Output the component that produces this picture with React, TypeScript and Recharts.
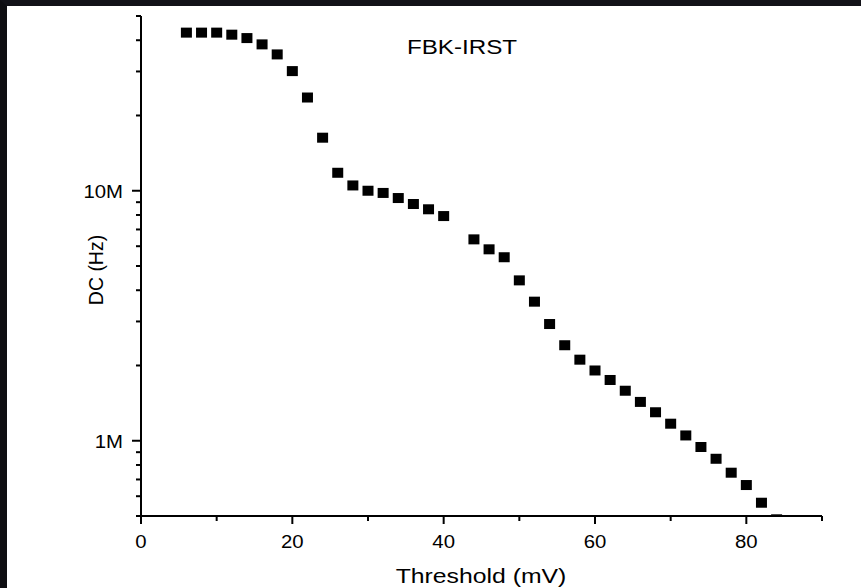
import React from 'react';
import { ScatterChart, Scatter, XAxis, YAxis } from 'recharts';

// threshold (mV) vs dark count rate (Hz)
const thresholds = [6, 8, 10, 12, 14, 16, 18, 20, 22, 24, 26, 28, 30, 32, 34, 36, 38, 40, 44, 46, 48, 50, 52, 54, 56, 58, 60, 62, 64, 66, 68, 70, 72, 74, 76, 78, 80, 82, 84];
const darkCounts = [
  42.9e6, 42.9e6, 42.9e6, 42.1e6, 40.8e6, 38.5e6, 35.1e6, 30.1e6, 23.6e6, 16.3e6,
  11.8e6, 10.5e6, 10.0e6, 9.8e6, 9.35e6, 8.85e6, 8.43e6, 7.92e6, 6.39e6, 5.83e6,
  5.42e6, 4.38e6, 3.6e6, 2.93e6, 2.41e6, 2.11e6, 1.91e6, 1.75e6, 1.585e6, 1.43e6,
  1.3e6, 1.17e6, 1.05e6, 0.944e6, 0.847e6, 0.745e6, 0.665e6, 0.565e6, 0.485e6,
];

const xTicks = [0, 10, 20, 30, 40, 50, 60, 70, 80, 90];
const xMajor = [0, 20, 40, 60, 80];
const yTicks = [
  5e5, 6e5, 7e5, 8e5, 9e5,
  1e6, 2e6, 3e6, 4e6, 5e6, 6e6, 7e6, 8e6, 9e6,
  1e7, 2e7, 3e7, 4e7, 5e7,
];
const yLabels: Record<number, string> = { 1e6: '1M', 1e7: '10M' };

const data = thresholds.map((t, i) => ({ t, dc: darkCounts[i] }));

const FONT = '"Liberation Sans", Arial, sans-serif';

// the source picture is stretched sideways a little
const stretch = (cx: number, k: number) => `translate(${cx} 0) scale(${k} 1) translate(${-cx} 0)`;

const XTick = (props: any) => {
  const { x, y, payload } = props;
  const major = xMajor.includes(payload.value);
  return (
    <g>
      <line x1={x} x2={x} y1={y} y2={y + (major ? 8 : 5)} stroke="#000" strokeWidth={2} />
      {major && (
        <text
          x={x}
          y={y + 32}
          textAnchor="middle"
          fontSize={18.5}
          fontFamily={FONT}
          fill="#000"
          transform={stretch(x, 1.1)}
        >
          {payload.value}
        </text>
      )}
    </g>
  );
};

const YTick = (props: any) => {
  const { x, y, payload } = props;
  const label = yLabels[payload.value];
  return (
    <g>
      <line x1={x - (label ? 9 : 5)} x2={x} y1={y} y2={y} stroke="#000" strokeWidth={2} />
      {label && (
        <text
          x={x - 18}
          y={y + 7}
          textAnchor="end"
          fontSize={18.5}
          fontFamily={FONT}
          fill="#000"
          transform={stretch(x - 18, 1.1)}
        >
          {label}
        </text>
      )}
    </g>
  );
};

const Square = (props: any) => {
  const { cx, cy } = props;
  return <rect x={cx - 5.5} y={cy - 5} width={11} height={10} fill="#000" />;
};

export default function App() {
  return (
    <div
      style={{
        position: 'fixed',
        left: 0,
        top: 0,
        width: 861,
        height: 588,
        boxSizing: 'border-box',
        background: '#fff',
        borderLeft: '7px solid #0e0e12',
        borderTop: '6px solid #121218',
        fontFamily: FONT,
      }}
    >
      <ScatterChart width={854} height={582} margin={{ top: 10, right: 39, bottom: 0, left: 0 }}>
        <XAxis
          type="number"
          dataKey="t"
          domain={[0, 90]}
          ticks={xTicks}
          interval={0}
          tickSize={0}
          tickMargin={0}
          tickLine={false}
          tick={<XTick />}
          height={72}
          axisLine={{ stroke: '#000', strokeWidth: 2 }}
        />
        <YAxis
          type="number"
          dataKey="dc"
          scale="log"
          domain={[5e5, 5e7]}
          allowDataOverflow
          ticks={yTicks}
          interval={0}
          tickSize={0}
          tickMargin={0}
          tickLine={false}
          tick={<YTick />}
          width={134}
          axisLine={{ stroke: '#000', strokeWidth: 2 }}
        />
        <Scatter data={data} shape={<Square />} isAnimationActive={false} />
        <text
          x={455}
          y={48}
          textAnchor="middle"
          fontSize={20.5}
          fontFamily={FONT}
          fill="#000"
          transform={stretch(455, 1.18)}
        >
          FBK-IRST
        </text>
        <text
          x={474}
          y={577}
          textAnchor="middle"
          fontSize={21}
          fontFamily={FONT}
          fill="#000"
          transform={stretch(474, 1.18)}
        >
          Threshold (mV)
        </text>
        <text
          x={89}
          y={264}
          textAnchor="middle"
          dominantBaseline="central"
          fontSize={19.5}
          fontFamily={FONT}
          fill="#000"
          transform="rotate(-90 89 264)"
        >
          DC (Hz)
        </text>
      </ScatterChart>
    </div>
  );
}
